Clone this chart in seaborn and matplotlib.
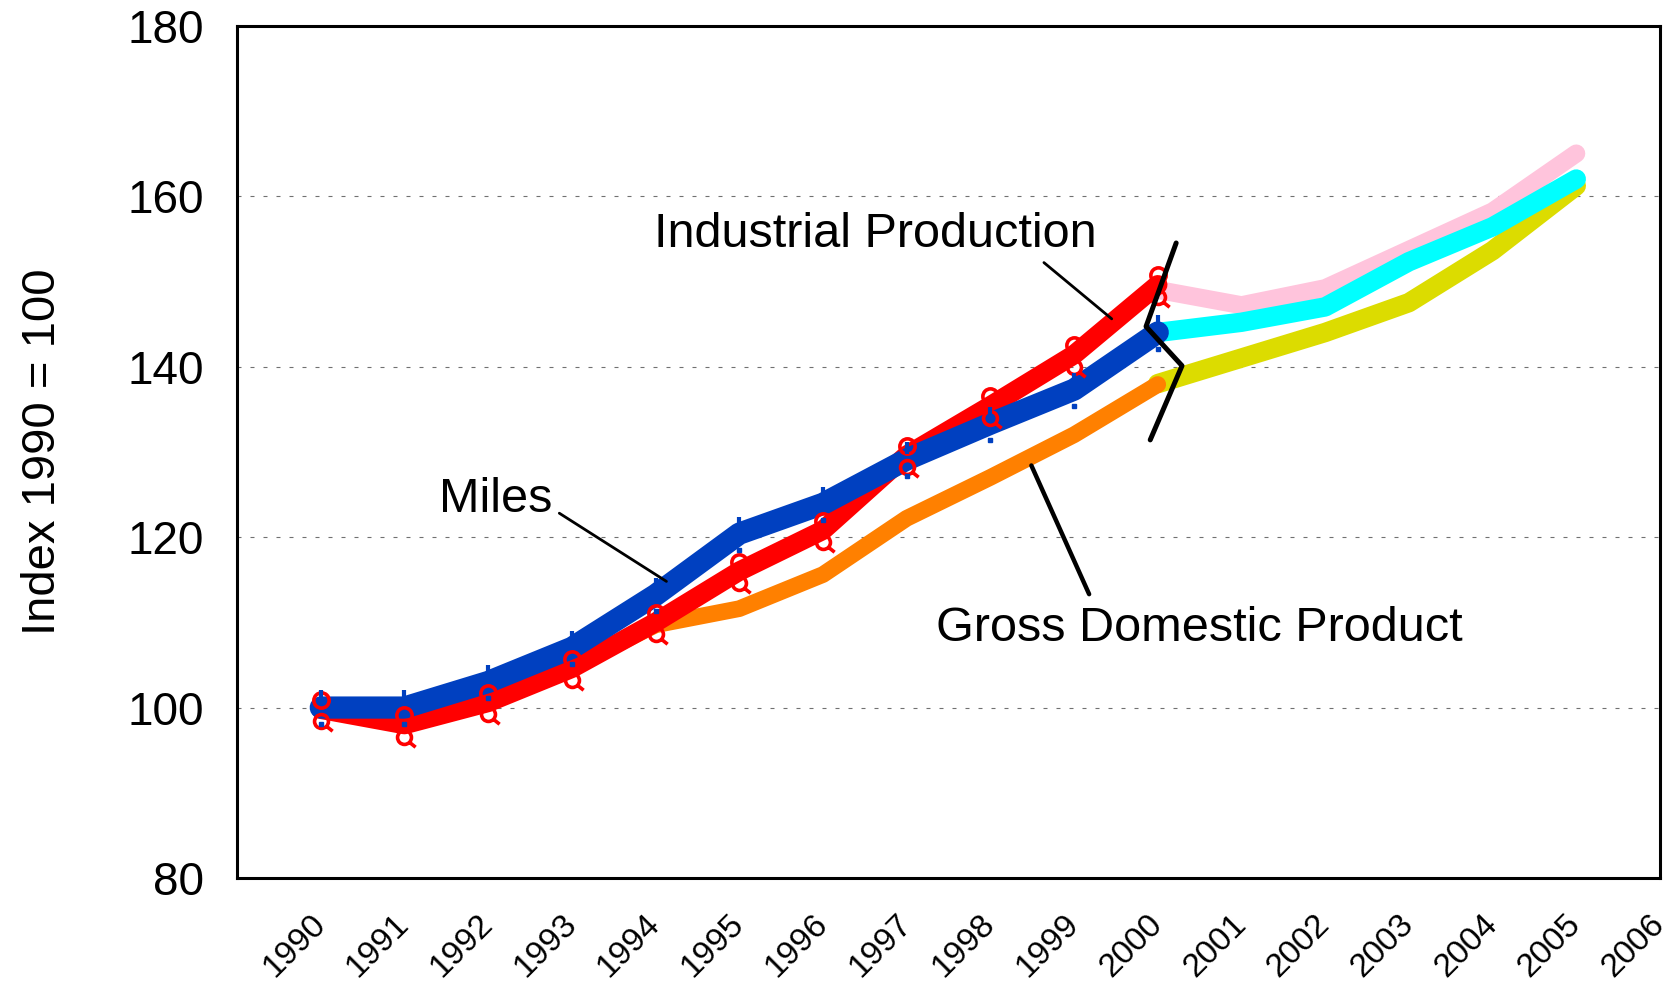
import numpy as np
import pandas as pd
import seaborn as sns
import matplotlib.pyplot as plt
from matplotlib.path import Path

# values (index, 1990 = 100)
years_hist = list(range(1990, 2001))
years_fc = list(range(2000, 2006))

industrial = [99.8, 98.0, 100.6, 104.6, 110.0, 116.0, 120.8, 129.6, 135.4, 141.4, 149.6]
miles = [100.0, 100.0, 103.0, 107.0, 113.2, 120.4, 123.9, 129.1, 133.3, 137.3, 144.0]
gdp = [100.0, 99.5, 102.0, 104.8, 109.7, 111.6, 115.6, 122.2, 127.0, 132.0, 137.9]

industrial_fc = [149.0, 147.2, 149.2, 153.7, 158.2, 165.0]
miles_fc = [144.0, 145.2, 147.0, 152.3, 156.4, 162.0]
gdp_fc = [138.0, 141.0, 144.0, 147.5, 153.6, 161.2]

tick_years = list(range(1990, 2007))
y_ticks = [80, 100, 120, 140, 160, 180]

sns.set_theme(style='white')
plt.rcParams['font.family'] = ['Liberation Sans', 'DejaVu Sans']
plt.rcParams['text.color'] = 'black'
plt.rcParams['axes.labelcolor'] = 'black'
plt.rcParams['xtick.color'] = 'black'
plt.rcParams['ytick.color'] = 'black'

fig = plt.figure(figsize=(16.73, 9.89), dpi=100)
ax = fig.add_axes([0.1417, 0.1122, 0.8505, 0.8619])


def draw(x, y, color, lw, z):
    sns.lineplot(x=x, y=y, color=color, linewidth=lw, ax=ax, zorder=z,
                 solid_capstyle='round', solid_joinstyle='round')


# forecasts first, history on top
draw(years_fc, gdp_fc, '#dcdc00', 14, 2)
draw(years_fc, industrial_fc, '#ffc4dc', 13, 2.1)
draw(years_fc, miles_fc, '#00ffff', 14, 2.2)
draw(years_hist, gdp, '#ff8000', 12, 3)
draw(years_hist, industrial, '#ff0000', 14, 3.1)
draw(years_hist, miles, '#0040c0', 16, 3.2)

# high / low marks on the history lines
ind = np.array(industrial)
mil = np.array(miles)
q_mark = Path.make_compound_path(Path.unit_circle(),
                                 Path([(0.6, -0.6), (1.6, -1.4)], [Path.MOVETO, Path.LINETO]))
ax.plot(years_hist, ind + 1.1, 'o', ms=11, mfc='none', mec='#ff0000', mew=2.6, zorder=4)
ax.plot(years_hist, ind - 1.4, ls='none', marker=q_mark, ms=16, mfc='none', mec='#ff0000',
        mew=2.6, zorder=4)
ax.plot(years_hist, mil + 1.3, '|', ms=9, mec='#0040c0', mew=3, zorder=4.1)
ax.plot(years_hist, mil - 1.9, 's', ms=3.5, mfc='#0040c0', mec='#0040c0', zorder=4.1)

# brace at the history / forecast break
ax.plot([2000.22, 1999.86, 2000.29, 1999.91], [154.5, 144.7, 140.1, 131.4],
        color='black', lw=3.6, solid_capstyle='round', zorder=6)

# labels and leader lines
ax.text(1996.62, 154.0, 'Industrial Production', ha='center', va='baseline', fontsize=35)
ax.plot([1998.64, 1999.45], [152.2, 145.6], color='black', lw=2, zorder=6)
ax.text(1992.09, 122.9, 'Miles', ha='center', va='baseline', fontsize=35)
ax.plot([1992.85, 1994.13], [122.8, 114.8], color='black', lw=2, zorder=6)
ax.text(2000.5, 107.8, 'Gross Domestic Product', ha='center', va='baseline', fontsize=35)
ax.plot([1998.49, 1999.18], [128.4, 113.3], color='black', lw=3.2, zorder=6)

ax.set_xlim(1989, 2006)
ax.set_ylim(80, 180)
ax.set_xticks(tick_years)
ax.set_xticklabels([str(y) for y in tick_years], rotation=45, ha='right', va='center',
                   rotation_mode='anchor', fontsize=24)
ax.set_yticks(y_ticks)
ax.set_yticklabels([str(v) for v in y_ticks], fontsize=33)
ax.tick_params(axis='x', length=0, pad=30)
ax.tick_params(axis='y', length=0, pad=24)
ax.set_xlabel('')
ax.set_ylabel('Index 1990 = 100', fontsize=34, labelpad=45)

ax.yaxis.grid(True, linestyle=(0, (3.6, 8.1)), color='#707070', linewidth=0.8)
ax.xaxis.grid(False)
for s in ax.spines.values():
    s.set_color('black')
    s.set_linewidth(2.2)
    s.set_zorder(7)

fig.savefig('out.png', dpi=100)
